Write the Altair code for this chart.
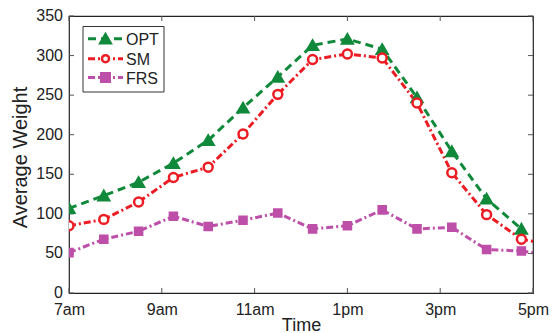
import altair as alt
import pandas as pd

# ---- data ----
hours = [7.0, 7.75, 8.5, 9.25, 10.0, 10.75, 11.5, 12.25, 13.0, 13.75, 14.5, 15.25, 16.0, 16.75, 17.5]
series = ["OPT", "SM", "FRS"]
opt = [107, 123, 140, 164, 193, 234, 273, 313, 321, 308, 247, 179, 119, 81]
sm = [85, 93, 115, 146, 159, 201, 251, 295, 302, 297, 240, 152, 99, 68, 60]
frs = [51, 68, 78, 97, 84, 92, 101, 81, 85, 105, 81, 83, 55, 53, 47]
x_tick_values = [7, 9, 11, 13, 15, 17]
x_tick_labels = ["7am", "9am", "11am", "1pm", "3pm", "5pm"]
y_tick_values = [0, 50, 100, 150, 200, 250, 300, 350]

# ---- styles ----
colors = ["#11893b", "#ec1c24", "#bd4fa9"]
fills = ["#11893b", "white", "#bd4fa9"]
shapes = ["triangle-up", "circle", "square"]
sizes = [110, 50, 72]
dashes = [[8, 5], [7, 3, 2, 3], [7, 3, 2, 3]]
FONT = "Liberation Sans"

rows = []
for name, vals in zip(series, [opt, sm, frs]):
    for h, v in zip(hours, vals):
        rows.append({"hour": h, "value": v, "series": name})
df = pd.DataFrame(rows)

W, H = 464, 277
xs = alt.Scale(domain=[7, 17], nice=False, zero=False)
ys = alt.Scale(domain=[0, 350], nice=False)

label_expr = "''"
for v, l in reversed(list(zip(x_tick_values, x_tick_labels))):
    label_expr = f"datum.value == {v} ? '{l}' : ({label_expr})"

x_axis = alt.Axis(values=x_tick_values, labelExpr=label_expr, ticks=False, tickSize=0,
                  domain=False, grid=False, labelFontSize=16, labelFont=FONT,
                  labelBaseline="alphabetic", labelPadding=21, labelColor="#222",
                  labelFlush=False, labelOverlap=False,
                  title="Time", titleFontSize=18, titleFont=FONT, titleFontWeight="normal",
                  titleX=W / 2, titleY=37, titleBaseline="alphabetic", titleAlign="center",
                  titleColor="#222")
y_axis = alt.Axis(values=y_tick_values, ticks=False, tickSize=0, domain=False, grid=False,
                  labels=False,
                  title="Average Weight", titleFontSize=20, titleFont=FONT,
                  titleFontWeight="normal", titleX=-49, titleY=141, titleAngle=-90,
                  titleBaseline="middle", titleAlign="center", titleColor="#222")

base = alt.Chart(df)
lines = base.mark_line(strokeWidth=3, clip=True).encode(
    x=alt.X("hour:Q", scale=xs, axis=x_axis),
    y=alt.Y("value:Q", scale=ys, axis=y_axis),
    color=alt.Color("series:N", scale=alt.Scale(domain=series, range=colors), legend=None),
    strokeDash=alt.StrokeDash("series:N", scale=alt.Scale(domain=series, range=dashes), legend=None),
)
points = base.mark_point(clip=True, opacity=1, fillOpacity=1, strokeWidth=2.5).encode(
    x=alt.X("hour:Q", scale=xs),
    y=alt.Y("value:Q", scale=ys),
    stroke=alt.Stroke("series:N", scale=alt.Scale(domain=series, range=colors), legend=None),
    fill=alt.Fill("series:N", scale=alt.Scale(domain=series, range=fills), legend=None),
    shape=alt.Shape("series:N", scale=alt.Scale(domain=series, range=shapes), legend=None),
    size=alt.Size("series:N", scale=alt.Scale(domain=series, range=sizes), legend=None),
)

# inward tick marks on all four sides
xt = pd.DataFrame({"hour": x_tick_values})
yt = pd.DataFrame({"value": y_tick_values})
tick_color = "#555"
tb = alt.Chart(xt).mark_rule(color=tick_color, strokeWidth=1).encode(
    x=alt.X("hour:Q", scale=xs), y=alt.value(H), y2=alt.value(H - 5))
tt = alt.Chart(xt).mark_rule(color=tick_color, strokeWidth=1).encode(
    x=alt.X("hour:Q", scale=xs), y=alt.value(0), y2=alt.value(5))
tl = alt.Chart(yt).mark_rule(color=tick_color, strokeWidth=1).encode(
    y=alt.Y("value:Q", scale=ys), x=alt.value(0), x2=alt.value(5))
tr = alt.Chart(yt).mark_rule(color=tick_color, strokeWidth=1).encode(
    y=alt.Y("value:Q", scale=ys), x=alt.value(W), x2=alt.value(W - 5))
ylab = alt.Chart(yt).mark_text(align="right", baseline="middle", fontSize=16, font=FONT,
                               color="#222", clip=False).encode(
    y=alt.Y("value:Q", scale=ys), x=alt.value(-6), text=alt.Text("value:Q"))

# legend
leg_df = pd.DataFrame({"series": series})
legend_layers = [
    alt.Chart(leg_df).transform_filter(alt.datum.series == series[0]).mark_rect(
        fill="white", stroke="#333", strokeWidth=1).encode(
        x=alt.value(14), x2=alt.value(95), y=alt.value(10.5), y2=alt.value(76))
]
leg_y = [22.7, 42.7, 61.5]
for i, name in enumerate(series):
    sub = alt.Chart(leg_df).transform_filter(alt.datum.series == name)
    legend_layers.append(sub.mark_rule(strokeWidth=3, strokeDash=dashes[i], color=colors[i]).encode(
        x=alt.value(19), x2=alt.value(54), y=alt.value(leg_y[i])))
    legend_layers.append(sub.mark_point(shape=shapes[i], size=sizes[i], fill=fills[i],
                                        stroke=colors[i], strokeWidth=2.5, opacity=1,
                                        fillOpacity=1).encode(
        x=alt.value(36.5), y=alt.value(leg_y[i])))
    legend_layers.append(sub.mark_text(align="left", baseline="middle", fontSize=16,
                                       font=FONT, color="#222").encode(
        x=alt.value(57), y=alt.value(leg_y[i] + 1), text="series:N"))

chart = alt.layer(lines, tb, tt, tl, tr, ylab, points, *legend_layers).properties(
    width=W, height=H, autosize="none",
    padding={"left": 61, "top": 8, "right": 16, "bottom": 40},
).configure_view(stroke="#222", strokeWidth=1.2)

chart.save("out.html", embed_options={"renderer": "svg", "actions": False})
